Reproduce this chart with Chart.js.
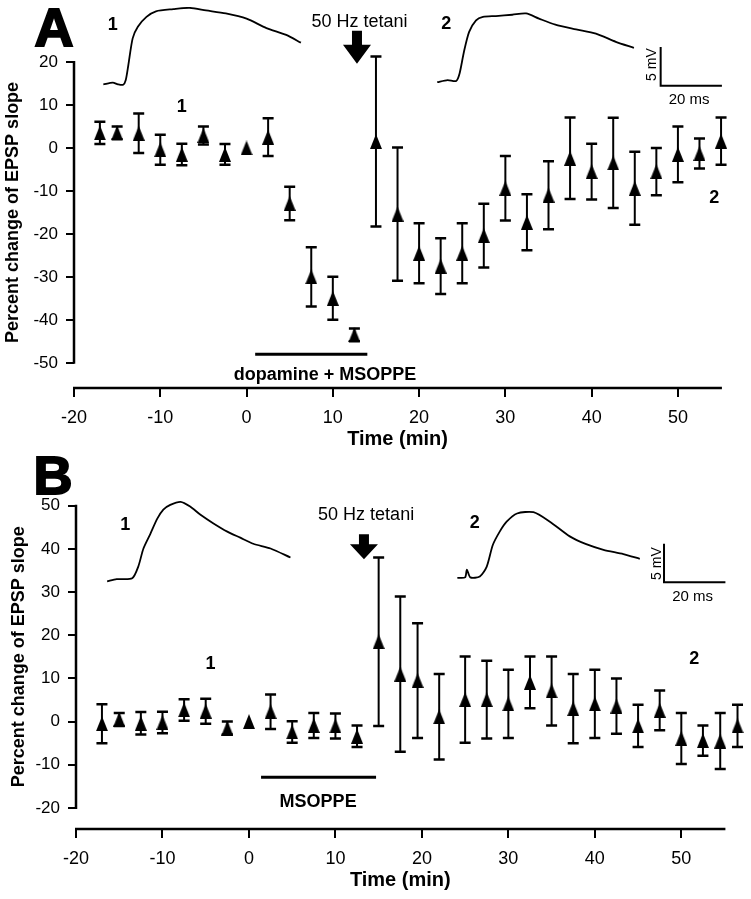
<!DOCTYPE html>
<html lang="en">
<head>
<meta charset="UTF-8">
<title>Percent change of EPSP slope</title>
<script src="https://cdn.jsdelivr.net/npm/chart.js"></script>
<style>
  body { margin: 0; background: #fff; }
  .panel { position: absolute; left: 0; width: 751px; }
  canvas { display: block; }
</style>
</head>
<body>
<div class="panel" style="top:0;height:449px"><canvas id="chartA" width="751" height="449"></canvas></div>
<div class="panel" style="top:449px;height:450px"><canvas id="chartB" width="751" height="450"></canvas></div>

<script>
// ---- Panel A: dopamine + MSOPPE, then 50 Hz tetani ----
var timeA = [-17, -15, -12.5, -10, -7.5, -5, -2.5, 0, 2.5, 5, 7.5, 10, 12.5, 15, 17.5,
             20, 22.5, 25, 27.5, 30, 32.5, 35, 37.5, 40, 42.5, 45, 47.5, 50, 52.5, 55];
var meanA = [3.5, 3.5, 3.4, -0.4, -1.5, 2.9, -1.5, 0, 2.5, -12.9, -30, -35, -43.5, 1.5, -15.4,
             -24.5, -27.5, -24.5, -20.4, -9.4, -17.3, -11, -2.4, -5.5, -3.5, -9.4, -5.5, -1.5, -1.3, 1.6];
var semA  = [2.6, 1.5, 4.6, 3.5, 2.5, 2.1, 2.4, 0, 4.4, 3.9, 6.9, 5, 1.5, 19.8, 15.5,
             7, 6.5, 7, 7.4, 7.5, 6.5, 7.9, 9.5, 6.5, 10.5, 8.5, 5.5, 6.5, 3.5, 5.5];

// ---- Panel B: MSOPPE alone, then 50 Hz tetani ----
var timeB = [-17, -15, -12.5, -10, -7.5, -5, -2.5, 0, 2.5, 5, 7.5, 10, 12.5, 15, 17.5,
             19.5, 22, 25, 27.5, 30, 32.5, 35, 37.5, 40, 42.5, 45, 47.5, 50, 52.5, 54.5, 56.5];
var meanB = [-0.5, 0.5, -0.4, -0.2, 2.7, 2.4, -1.5, 0, 2.3, -2.4, -0.9, -1, -3.4, 18.5, 11,
             9.5, 1.1, 5.1, 5.1, 4.1, 9.1, 7.1, 3, 4.1, 3.6, -1, 2.6, -3.9, -4.4, -4.5, -1];
var semB  = [4.5, 1.5, 2.6, 2.5, 2.5, 2.9, 1.5, 0, 4, 2.5, 2.9, 2.9, 2.5, 19.5, 18,
             13.3, 9.9, 10, 9, 7.9, 6, 8, 8, 7.9, 6.4, 4.9, 4.6, 5.9, 3.5, 6.5, 4.9];

// example EPSP traces (plotted in the panel's own units)
var traceA1x = [-16.6, -15.5, -14.9, -14.3, -14.0, -13.7, -13.2, -12.6, -11.6, -10.5, -8.5, -6.6, -4.7, -2.4, 0, 2.3, 4.6, 6.3];
var traceA1y = [14.8, 15.2, 14.8, 14.7, 15.8, 19.3, 25.5, 28.2, 30.5, 31.8, 32.3, 32.6, 32.0, 31.3, 30.1, 27.9, 26.3, 24.5];
var traceA2x = [22.1, 23.3, 24.3, 24.7, 25.2, 25.8, 26.6, 27.4, 28.9, 30.8, 32.4, 33.9, 35.8, 38.2, 40.5, 42.8, 44.9];
var traceA2y = [15.3, 15.8, 15.6, 17.4, 22.4, 27.0, 29.7, 30.5, 30.7, 31.0, 31.3, 30.1, 28.7, 27.6, 26.6, 24.7, 23.3];
var traceB1x = [-16.4, -15.3, -13.5, -12.8, -12.2, -11.4, -10.6, -9.9, -9.1, -7.9, -6.8, -5.6, -4.1, -2.5, -1.0, 0.5, 2.5, 4.8];
var traceB1y = [32.5, 33.0, 33.2, 35.9, 40.1, 43.5, 47.0, 49.1, 50.2, 50.9, 49.8, 47.9, 45.9, 44.0, 42.6, 41.2, 40.1, 38.0];
var traceB2x = [24.1, 25.0, 25.2, 25.6, 26.7, 27.5, 28.2, 29.0, 29.8, 31.0, 32.9, 34.8, 37.1, 39.0, 41.0, 43.3, 45.2];
var traceB2y = [33.3, 33.4, 35.2, 33.4, 33.6, 35.9, 40.9, 44.0, 46.3, 48.2, 48.5, 46.3, 42.9, 41.1, 39.8, 38.8, 37.7];

var xTicks = [-20, -10, 0, 10, 20, 30, 40, 50];
var yTicksA = [-50, -40, -30, -20, -10, 0, 10, 20];
var yTicksB = [-20, -10, 0, 10, 20, 30, 40, 50];

var FONT = "'Liberation Sans', Arial, Helvetica, sans-serif";
Chart.defaults.font.family = FONT;
Chart.defaults.color = '#000';

function pts(xs, ys) {
    return xs.map(function (x, i) { return { x: x, y: ys[i] }; });
}

// narrow filled triangle used as the point marker
var tri = document.createElement('canvas');
tri.width = 12; tri.height = 15;
(function () {
    var c = tri.getContext('2d');
    c.fillStyle = '#000';
    c.beginPath();
    c.moveTo(6, 0); c.lineTo(12, 15); c.lineTo(0, 15);
    c.closePath();
    c.fill();
})();

// error bars + all the figure furniture (axis lines, labels, arrow, drug bar, scale bar)
function makeFigurePlugin(cfg) {
    return {
        id: 'figure' + cfg.letter,
        beforeDatasetsDraw: function (chart) {
            var ctx = chart.ctx, xs = chart.scales.x, ys = chart.scales.y;
            ctx.save();
            ctx.strokeStyle = '#000';
            cfg.times.forEach(function (t, i) {
                if (!(cfg.errs[i] > 0)) return;
                var px = xs.getPixelForValue(t);
                var top = ys.getPixelForValue(cfg.means[i] + cfg.errs[i]);
                var bot = ys.getPixelForValue(cfg.means[i] - cfg.errs[i]);
                ctx.lineWidth = 2;
                ctx.beginPath();
                ctx.moveTo(px, top); ctx.lineTo(px, bot);
                ctx.stroke();
                ctx.lineWidth = 2.5;
                ctx.beginPath();
                ctx.moveTo(px - 5.5, top); ctx.lineTo(px + 5.5, top);
                ctx.moveTo(px - 5.5, bot); ctx.lineTo(px + 5.5, bot);
                ctx.stroke();
            });
            ctx.restore();
        },
        afterDraw: function (chart) {
            var ctx = chart.ctx, xs = chart.scales.x, ys = chart.scales.y, area = chart.chartArea;
            var X = function (v) { return xs.getPixelForValue(v); };
            var Y = function (v) { return ys.getPixelForValue(v); };
            var yt = cfg.yTicks;
            ctx.save();
            ctx.strokeStyle = '#000';
            ctx.fillStyle = '#000';

            // axis lines
            ctx.lineWidth = 2.5;
            ctx.beginPath();
            ctx.moveTo(area.left, Y(yt[0]) + 1);
            ctx.lineTo(area.left, Y(yt[yt.length - 1]) - 1);
            ctx.moveTo(area.left - 1, area.bottom);
            ctx.lineTo(X(cfg.xEnd), area.bottom);
            ctx.stroke();

            // axis titles
            ctx.textAlign = 'center';
            ctx.textBaseline = 'middle';
            ctx.font = 'bold 18px ' + FONT;
            ctx.save();
            ctx.translate(cfg.yTitleX, Y((yt[0] + yt[yt.length - 1]) / 2));
            ctx.rotate(-Math.PI / 2);
            ctx.fillText('Percent change of EPSP slope', 0, 0);
            ctx.restore();
            ctx.font = 'bold 20px ' + FONT;
            ctx.fillText('Time (min)', X(17.5), area.bottom + 51);

            // panel letter
            ctx.font = 'bold 54px ' + FONT;
            ctx.lineWidth = 2;
            ctx.fillText(cfg.letter, cfg.letterPos[0], cfg.letterPos[1]);
            ctx.strokeText(cfg.letter, cfg.letterPos[0], cfg.letterPos[1]);

            // drug application bar
            ctx.lineWidth = 3;
            ctx.beginPath();
            ctx.moveTo(X(cfg.drug.from), Y(cfg.drug.at));
            ctx.lineTo(X(cfg.drug.to), Y(cfg.drug.at));
            ctx.stroke();
            ctx.font = 'bold 18px ' + FONT;
            ctx.fillText(cfg.drug.label, X(cfg.drug.labelT), Y(cfg.drug.labelV));

            // tetanus arrow
            var ax = X(cfg.arrow.t), tip = Y(cfg.arrow.tip);
            ctx.beginPath();
            ctx.moveTo(ax, tip);
            ctx.lineTo(ax - 14, tip - cfg.arrow.head);
            ctx.lineTo(ax - 5, tip - cfg.arrow.head);
            ctx.lineTo(ax - 5, tip - cfg.arrow.len);
            ctx.lineTo(ax + 5, tip - cfg.arrow.len);
            ctx.lineTo(ax + 5, tip - cfg.arrow.head);
            ctx.lineTo(ax + 14, tip - cfg.arrow.head);
            ctx.closePath();
            ctx.fill();
            ctx.font = '18px ' + FONT;
            ctx.fillText('50 Hz tetani', X(cfg.tetani[0]), Y(cfg.tetani[1]));

            // "1" / "2" markers
            ctx.font = 'bold 18px ' + FONT;
            cfg.marks.forEach(function (m) {
                ctx.fillText(m[0], X(m[1]), Y(m[2]));
            });

            // calibration bar
            var sb = cfg.scaleBar;
            ctx.lineWidth = 2;
            ctx.beginPath();
            ctx.moveTo(X(sb.t0), Y(sb.v1));
            ctx.lineTo(X(sb.t0), Y(sb.v0));
            ctx.lineTo(X(sb.t1), Y(sb.v0));
            ctx.stroke();
            ctx.font = '15px ' + FONT;
            ctx.fillText('20 ms', X(sb.msPos[0]), Y(sb.msPos[1]));
            ctx.font = '14px ' + FONT;
            ctx.save();
            ctx.translate(X(sb.mvPos[0]), Y(sb.mvPos[1]));
            ctx.rotate(-Math.PI / 2);
            ctx.fillText('5 mV', 0, 0);
            ctx.restore();

            ctx.restore();
        }
    };
}

function makeChart(id, p) {
    var traceStyle = {
        showLine: true, pointRadius: 0, borderColor: '#000', borderWidth: 1.8,
        tension: 0.25, fill: false
    };
    return new Chart(document.getElementById(id).getContext('2d'), {
        type: 'scatter',
        data: {
            datasets: [
                Object.assign({ data: pts(p.tr1x, p.tr1y) }, traceStyle),
                Object.assign({ data: pts(p.tr2x, p.tr2y) }, traceStyle),
                {
                    data: pts(p.times, p.means),
                    pointStyle: tri, pointRadius: 7,
                    backgroundColor: '#000', borderColor: '#000', borderWidth: 0
                }
            ]
        },
        options: {
            responsive: false,
            animation: false,
            events: [],
            layout: { padding: { left: 0, right: 6, top: 0, bottom: 0 } },
            plugins: { legend: { display: false }, tooltip: { enabled: false } },
            scales: {
                x: {
                    type: 'linear', min: -20, max: p.xMax,
                    afterFit: function (s) { s.height = p.xHeight; s.paddingLeft = 0; s.paddingRight = 0; },
                    afterBuildTicks: function (s) { s.ticks = xTicks.map(function (v) { return { value: v }; }); },
                    border: { display: false },
                    grid: { drawOnChartArea: false, drawTicks: true, tickLength: 9, color: '#000', lineWidth: 2 },
                    ticks: { font: { size: 18 }, color: '#000', padding: 10, maxRotation: 0 }
                },
                y: {
                    type: 'linear', min: p.yMin, max: p.yMax,
                    afterFit: function (s) { s.width = p.yWidth; s.paddingTop = 0; s.paddingBottom = 0; },
                    afterBuildTicks: function (s) { s.ticks = p.yTicks.map(function (v) { return { value: v }; }); },
                    border: { display: false },
                    grid: { drawOnChartArea: false, drawTicks: true, tickLength: 8, color: '#000', lineWidth: 2 },
                    ticks: { font: { size: 17 }, color: '#000', padding: 8 }
                }
            }
        },
        plugins: [makeFigurePlugin(p)]
    });
}

makeChart('chartA', {
    letter: 'A', letterPos: [54, 31],
    times: timeA, means: meanA, errs: semA,
    tr1x: traceA1x, tr1y: traceA1y, tr2x: traceA2x, tr2y: traceA2y,
    yTicks: yTicksA, yMin: -55.86, yMax: 32.80, yWidth: 74,
    xMax: 57.66, xHeight: 61, xEnd: 55.1, yTitleX: 13.5,
    drug: { from: 1, to: 14, at: -48, label: 'dopamine + MSOPPE', labelT: 9.1, labelV: -52.8 },
    arrow: { t: 12.8, tip: 19.6, head: 19, len: 33 },
    tetani: [13.1, 29.3],
    marks: [['1', -15.5, 28.6], ['2', 23.15, 28.9], ['1', -7.5, 9.6], ['2', 54.2, -11.6]],
    scaleBar: { t0: 48.0, t1: 55.1, v0: 14.5, v1: 23.5, msPos: [51.3, 11.3], mvPos: [47.0, 19.4] }
});

makeChart('chartB', {
    letter: 'B', letterPos: [53, 30],
    times: timeB, means: meanB, errs: semB,
    tr1x: traceB1x, tr1y: traceB1y, tr2x: traceB2x, tr2y: traceB2y,
    yTicks: yTicksB, yMin: -24.88, yMax: 61.52, yWidth: 76,
    xMax: 57.25, xHeight: 70, xEnd: 55.1, yTitleX: 19,
    drug: { from: 1.4, to: 14.7, at: -12.9, label: 'MSOPPE', labelT: 8.0, labelV: -18.7 },
    arrow: { t: 13.3, tip: 37.6, head: 15, len: 25 },
    tetani: [13.55, 47.9],
    marks: [['1', -14.3, 45.6], ['2', 26.1, 45.9], ['1', -4.45, 13.4], ['2', 51.5, 14.5]],
    scaleBar: { t0: 48.0, t1: 55.1, v0: 32.3, v1: 41.2, msPos: [51.3, 29.0], mvPos: [47.15, 36.6] }
});
</script>
</body>
</html>
